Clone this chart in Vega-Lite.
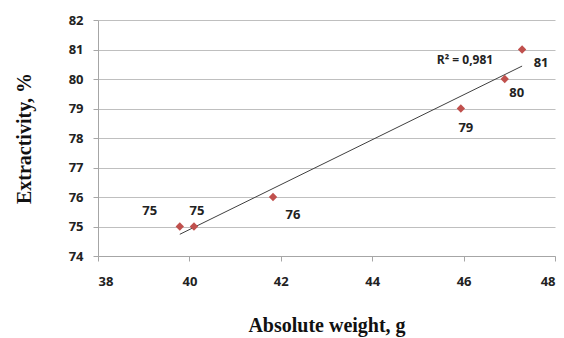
{
  "$schema": "https://vega.github.io/schema/vega-lite/v6.json",
  "width": 457,
  "height": 236,
  "autosize": {"type": "none"},
  "padding": {"left": 98, "top": 20, "right": 9, "bottom": 82},
  "background": "white",
  "config": {
    "view": {"stroke": null},
    "axis": {
      "labelFont": "Open Sans",
      "labelFontWeight": "bold",
      "labelFontSize": 13,
      "labelColor": "#222",
      "titleFont": "Liberation Serif",
      "titleFontWeight": "bold",
      "titleFontSize": 20,
      "titleColor": "#111",
      "domainColor": "#a6a6a6",
      "tickColor": "#a6a6a6",
      "gridColor": "#bfbfbf",
      "tickSize": 5
    }
  },
  "data": {
    "values": [
      {"weight": 39.79, "extract": 75, "label": "75", "pos": "a"},
      {"weight": 40.1, "extract": 75, "label": "75", "pos": "b"},
      {"weight": 41.83, "extract": 76, "label": "76", "pos": "c"},
      {"weight": 45.94, "extract": 79, "label": "79", "pos": "d"},
      {"weight": 46.9, "extract": 80, "label": "80", "pos": "e"},
      {"weight": 47.28, "extract": 81, "label": "81", "pos": "f"}
    ]
  },
  "encoding": {
    "x": {
      "field": "weight", "type": "quantitative",
      "scale": {"domain": [38, 48], "nice": false, "zero": false},
      "axis": {"title": "Absolute weight, g", "values": [38, 40, 42, 44, 46, 48], "grid": false, "labelPadding": 14, "titlePadding": 27}
    },
    "y": {
      "field": "extract", "type": "quantitative",
      "scale": {"domain": [74, 82], "nice": false, "zero": false},
      "axis": {"title": "Extractivity, %", "values": [74, 75, 76, 77, 78, 79, 80, 81, 82], "grid": true, "labelPadding": 10, "titlePadding": 34}
    }
  },
  "layer": [
    {
      "transform": [{"regression": "extract", "on": "weight"}],
      "mark": {"type": "line", "color": "#404040", "strokeWidth": 1}
    },
    {
      "mark": {"type": "point", "shape": "diamond", "filled": true, "color": "#c0504d", "size": 70, "opacity": 1}
    },
    {
      "transform": [{"filter": "datum.pos == 'a'"}],
      "mark": {"type": "text", "font": "Open Sans", "fontWeight": "bold", "fontSize": 13, "color": "#222", "dx": -30, "dy": -16},
      "encoding": {"text": {"field": "label"}}
    },
    {
      "transform": [{"filter": "datum.pos == 'b'"}],
      "mark": {"type": "text", "font": "Open Sans", "fontWeight": "bold", "fontSize": 13, "color": "#222", "dx": 3, "dy": -16},
      "encoding": {"text": {"field": "label"}}
    },
    {
      "transform": [{"filter": "datum.pos == 'c'"}],
      "mark": {"type": "text", "font": "Open Sans", "fontWeight": "bold", "fontSize": 13, "color": "#222", "dx": 20, "dy": 18},
      "encoding": {"text": {"field": "label"}}
    },
    {
      "transform": [{"filter": "datum.pos == 'd'"}],
      "mark": {"type": "text", "font": "Open Sans", "fontWeight": "bold", "fontSize": 13, "color": "#222", "dx": 5, "dy": 19},
      "encoding": {"text": {"field": "label"}}
    },
    {
      "transform": [{"filter": "datum.pos == 'e'"}],
      "mark": {"type": "text", "font": "Open Sans", "fontWeight": "bold", "fontSize": 13, "color": "#222", "dx": 12, "dy": 14},
      "encoding": {"text": {"field": "label"}}
    },
    {
      "transform": [{"filter": "datum.pos == 'f'"}],
      "mark": {"type": "text", "font": "Open Sans", "fontWeight": "bold", "fontSize": 13, "color": "#222", "dx": 19, "dy": 13},
      "encoding": {"text": {"field": "label"}}
    },
    {
      "data": {"values": [{"weight": 46.03, "extract": 80.64, "txt": "R² = 0,981"}]},
      "mark": {"type": "text", "font": "Open Sans", "fontWeight": "bold", "fontSize": 12, "color": "#222"},
      "encoding": {"text": {"field": "txt"}}
    }
  ]
}
